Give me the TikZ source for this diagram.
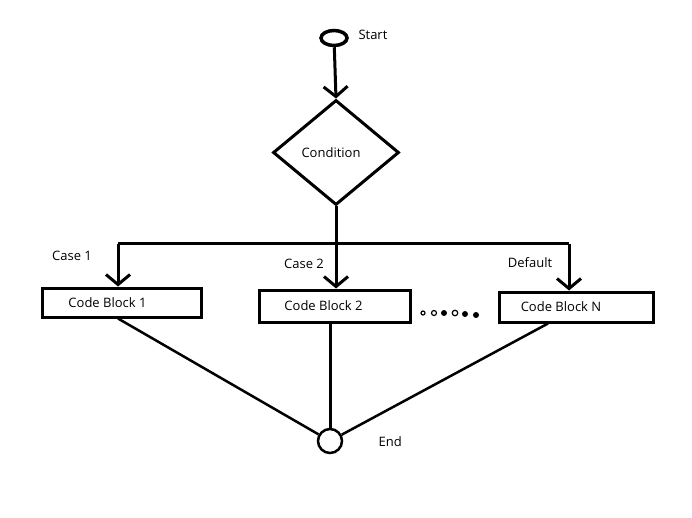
\documentclass[tikz,border=0pt]{standalone}
\usepackage{fontspec}
\setmainfont{Open Sans}
\usetikzlibrary{shapes.geometric,arrows.meta}
\tikzset{
  flow/.style={line width=3pt},
  arr/.style={flow, -{Straight Barb[length=10pt,width=24pt,line width=3pt]}},
  block/.style={draw, flow, minimum width=156pt, minimum height=29pt, inner sep=0pt},
  dot/.style={circle, inner sep=0pt, minimum size=#1, fill=black},
  hollow/.style={circle, draw, line width=1.2pt, inner sep=0pt, minimum size=#1}
}
\begin{document}
\begin{tikzpicture}[x=1pt, y=-1pt, node font=\fontsize{13}{15}\selectfont]
  \useasboundingbox (0,0) rectangle (692,518);
  % start and condition
  \node [ellipse, draw, line width=3.5pt, minimum width=26pt, minimum height=15pt,
    inner sep=0pt] (start) at (334,38) {};
  \node [anchor=west] (startlbl) at (354,35) {Start};
  \node [diamond, draw, flow, minimum width=126pt, minimum height=105pt,
    inner sep=0pt, label={[xshift=-5pt]center:Condition}] (cond) at (336,152.5) {};
  \draw [arr] (start) -- (cond.north);
  % branches
  \coordinate (split) at (336,244);
  \coordinate (c1) at (118,244);
  \coordinate (cN) at (569,244);
  \draw [flow] (cond.south) -- (split);
  \draw [flow] (c1) -- (cN);
  \node [block, minimum width=159pt, label={[xshift=-14pt]center:Code Block 1}]
    (b1) at (121.5,302.5) {};
  \node [block, minimum width=151pt, minimum height=32pt,
    label={[xshift=-11pt]center:Code Block 2}] (b2) at (334.5,306) {};
  \node [block, minimum width=154pt, minimum height=30pt,
    label={[xshift=-15pt]center:Code Block N}] (bN) at (576,307) {};
  \draw [arr] (c1) -- (c1 |- b1.north);
  \draw [arr] (split) -- (split |- b2.north);
  \draw [arr] (cN) -- (cN |- bN.north);
  \node (case1) at (72,256) {Case 1};
  \node (case2) at (304,264) {Case 2};
  \node (deflt) at (530,263) {Default};
  % dots between blocks
  \node [hollow=4pt] (d1) at (423,313) {};
  \node [hollow=5pt] (d2) at (434,313) {};
  \node [dot=6pt] (d3) at (444,313) {};
  \node [hollow=5.5pt] (d4) at (455,313) {};
  \node [dot=6pt] (d5) at (465,314) {};
  \node [dot=6pt] (d6) at (476,315) {};
  % end
  \node [circle, draw, line width=2.5pt, minimum size=24pt, inner sep=0pt]
    (end) at (330,441) {};
  \node [anchor=west] (endlbl) at (374,442) {End};
  \draw [line width=2.5pt] (b1.south -| c1) -- (end);
  \draw [line width=3pt] (b2.south -| end) -- (end);
  \draw [line width=2.5pt] ([xshift=-28pt]bN.south) -- (end);
\end{tikzpicture}
\end{document}
